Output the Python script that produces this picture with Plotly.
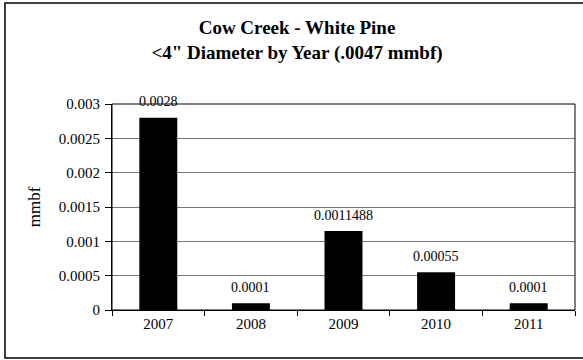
import plotly.graph_objects as go

years = ["2007", "2008", "2009", "2010", "2011"]
values = [0.0028, 0.0001, 0.0011488, 0.00055, 0.0001]
labels = ["0.0028", "0.0001", "0.0011488", "0.00055", "0.0001"]
ytick_vals = [0, 0.0005, 0.001, 0.0015, 0.002, 0.0025, 0.003]
ytick_text = ["0", "0.0005", "0.001", "0.0015", "0.002", "0.0025", "0.003"]

FONT = "Liberation Serif"

# plot area in pixels: x 112..575, y 104..310
L, R, T, B = 112, 575, 104, 310
W, H = 583, 360
PW, PH = R - L, B - T

fig = go.Figure()
fig.add_trace(go.Bar(
    x=years, y=values,
    marker=dict(color="black", line=dict(color="black", width=0)),
    width=0.41, hoverinfo="skip",
))

# data labels: category axis positions are given by category index
for i, (v, lab) in enumerate(zip(values, labels)):
    fig.add_annotation(x=i, y=v, text=lab, showarrow=False,
                       yanchor="middle", yshift=16,
                       font=dict(family=FONT, size=14, color="black"))

fig.update_layout(
    width=W, height=H,
    margin=dict(l=L, r=W - R, t=T, b=H - B),
    paper_bgcolor="white", plot_bgcolor="white",
    showlegend=False,
    font=dict(family=FONT, color="black", size=15),
    title=dict(
        text="<b>Cow Creek - White Pine</b><br><b><4\" Diameter by Year (.0047 mmbf)</b>",
        x=(297 - L) / PW, xref="paper", xanchor="center",
        y=1 - 34 / H, yref="container", yanchor="middle",
        font=dict(family=FONT, size=19, color="black"),
    ),
)

fig.update_xaxes(
    type="category", showline=True, linecolor="black", linewidth=1,
    mirror=False, ticks="outside", tickson="boundaries", ticklen=5,
    tickcolor="black", tickfont=dict(family=FONT, size=15), showgrid=False,
)
fig.update_yaxes(
    range=[0, 0.003], tickvals=ytick_vals, ticktext=ytick_text,
    showline=True, linecolor="black", linewidth=1, ticks="outside",
    ticklen=6, tickcolor="black", showgrid=True, gridcolor="#777777",
    gridwidth=1, zeroline=False, tickfont=dict(family=FONT, size=15),
    ticklabelstandoff=2,
    title=dict(text="mmbf", font=dict(family=FONT, size=17), standoff=13),
)

# plot area border (top & right)
fig.add_shape(type="rect", xref="paper", yref="paper", x0=0, x1=1, y0=0, y1=1,
              line=dict(color="black", width=1), layer="above")
# outer chart border
fig.add_shape(type="rect", xref="paper", yref="paper",
              x0=(5 - L) / PW, x1=(585 - L) / PW,
              y0=(B - 358) / PH, y1=(B - 3) / PH,
              line=dict(color="black", width=1.5))

fig.write_html("out.html", config={"displayModeBar": False},
               post_script="document.body.style.margin='0';")
